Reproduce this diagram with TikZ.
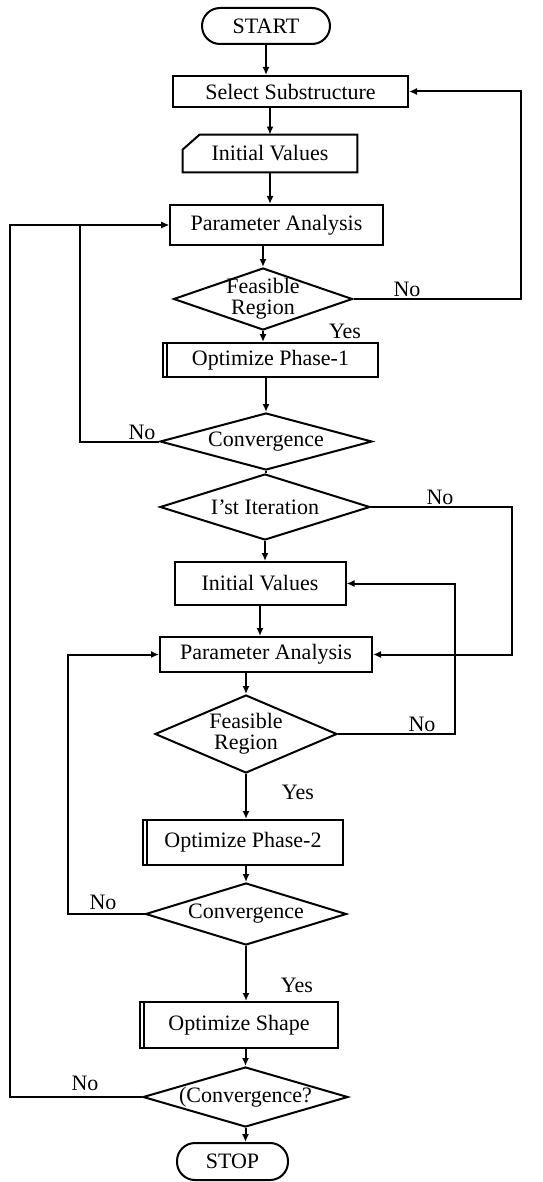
\documentclass[tikz,border=0pt]{standalone}
\usepackage{fontspec}
\setmainfont{Liberation Serif}
\usetikzlibrary{arrows.meta, shapes.geometric}
\newcommand\chartfont{\fontsize{11}{10.5}\selectfont}
\tikzset{
  terminal-node/.style={
    draw, rounded corners=9pt, line width=1pt, inner sep=0pt, font=\chartfont
  },
  process-node/.style={
    draw, line width=1pt, inner sep=0pt, font=\chartfont
  },
  predef-node/.style={
    process-node,
    path picture={\draw[line width=1pt] ([xshift=2pt]path picture bounding box.north west) -- ([xshift=2pt]path picture bounding box.south west);}
  },
  input-node/.style={inner sep=0pt, font=\chartfont},
  decision-node/.style={
    draw, diamond, line width=1pt, inner sep=0pt,
    label={[align=center, font=\chartfont, inner sep=0pt]center:#1}
  },
  answer-node/.style={inner sep=0pt, font=\chartfont},
  flow/.style={-{Latex[length=4pt, width=3.5pt]}, line width=1pt},
  link/.style={line width=1pt}
}

\begin{document}
\begin{tikzpicture}[x=0.5pt, y=-0.5pt]
  \useasboundingbox (0,0) rectangle (542,1182);

  % upper loop
  \node[terminal-node, minimum width=64pt, minimum height=18pt]     (start)  at (266,26)      {START};
  \node[process-node, minimum width=117.5pt, minimum height=15.5pt] (select) at (290.5,91.5)  {Select Substructure};
  \node[input-node, minimum width=87pt, minimum height=18.5pt]      (init1)  at (270,153.5)   {Initial Values};
  \draw[link] (init1.south west) -- ([yshift=-7.5pt]init1.north west) -- ([xshift=8.5pt]init1.north west)
    -- (init1.north east) -- (init1.south east) -- cycle;
  \node[process-node, minimum width=106.5pt, minimum height=20pt]   (param1) at (276.5,225)   {Parameter Analysis};
  \node[decision-node={Feasible\\Region}, minimum width=89.5pt, minimum height=31pt] (feas1) at (263,299) {};
  \node[predef-node, minimum width=107.5pt, minimum height=17pt]    (opt1)   at (270.5,360)   {Optimize Phase-1};
  \node[decision-node={Convergence}, minimum width=106pt, minimum height=28.5pt] (conv1) at (266,441.5) {};
  \node[decision-node={I'st Iteration}, minimum width=105pt, minimum height=33pt] (iter1) at (265,507) {};

  % lower loop
  \node[process-node, minimum width=85.5pt, minimum height=21.5pt]  (init2)  at (260,583.5)   {Initial Values};
  \node[process-node, minimum width=106pt, minimum height=17.5pt]   (param2) at (266,654.5)   {Parameter Analysis};
  \node[decision-node={Feasible\\Region}, minimum width=91pt, minimum height=39pt] (feas2) at (246,734) {};
  \node[predef-node, minimum width=100pt, minimum height=22.5pt]    (opt2)   at (243,842.5)   {Optimize Phase-2};
  \node[decision-node={Convergence}, minimum width=100.5pt, minimum height=31pt] (conv2) at (246,914) {};
  \node[predef-node, minimum width=99pt, minimum height=23pt]       (shape)  at (239,1025)    {Optimize Shape};
  \node[decision-node={(Convergence?}, minimum width=102.5pt, minimum height=30pt] (conv3) at (245.5,1097) {};
  \node[terminal-node, minimum width=55.5pt, minimum height=18.5pt] (stop)   at (232.5,1161.5) {STOP};

  % answers
  \node[answer-node] (no1)  at (407,289)  {No};
  \node[answer-node] (yes1) at (345,331)  {Yes};
  \node[answer-node] (no2)  at (142,432)  {No};
  \node[answer-node] (no3)  at (440,497)  {No};
  \node[answer-node] (no4)  at (422,724)  {No};
  \node[answer-node] (yes2) at (298,792)  {Yes};
  \node[answer-node] (no5)  at (103,902)  {No};
  \node[answer-node] (yes3) at (297,985)  {Yes};
  \node[answer-node] (no6)  at (85,1083)  {No};

  % rails of the return lines
  \coordinate (loopfar)  at (10,0);
  \coordinate (loopnear) at (80,0);
  \coordinate (loopmid)  at (68,0);
  \coordinate (backtop)  at (521,0);
  \coordinate (backiter) at (512,0);
  \coordinate (backfeas) at (455,0);

  \draw[flow] (start.south) -- (start.south |- select.north);
  \draw[flow] (init1.north |- select.south) -- (init1.north);
  \draw[flow] (init1.south) -- (init1.south |- param1.north);
  \draw[flow] (feas1.north |- param1.south) -- (feas1.north);
  \draw[flow] (feas1.south) -- (feas1.south |- opt1.north);
  \draw[flow] (conv1.north |- opt1.south) -- (conv1.north);
  \draw[link] (conv1.south) -- (conv1.south |- iter1.north);
  \draw[flow] (iter1.south) -- (iter1.south |- init2.north);
  \draw[flow] (init2.south) -- (init2.south |- param2.north);
  \draw[flow] (feas2.north |- param2.south) -- (feas2.north);
  \draw[flow] (feas2.south) -- (feas2.south |- opt2.north);
  \draw[flow] (conv2.north |- opt2.south) -- (conv2.north);
  \draw[flow] (conv2.south) -- (conv2.south |- shape.north);
  \draw[flow] (conv3.north |- shape.south) -- (conv3.north);
  \draw[flow] (conv3.south) -- (conv3.south |- stop.north);

  \draw[flow] (feas1.east) -- (feas1.east -| backtop) |- (select.east);
  \draw[flow] (conv1.west) -- (conv1.west -| loopnear) |- (param1.west);
  \draw[flow] (conv3.west) -- (conv3.west -| loopfar) |- (param1.west);
  \draw[flow] (iter1.east) -- (iter1.east -| backiter) |- (param2.east);
  \draw[flow] (feas2.east) -- (feas2.east -| backfeas) |- (init2.east);
  \draw[flow] (conv2.west) -- (conv2.west -| loopmid) |- (param2.west);
\end{tikzpicture}
\end{document}
